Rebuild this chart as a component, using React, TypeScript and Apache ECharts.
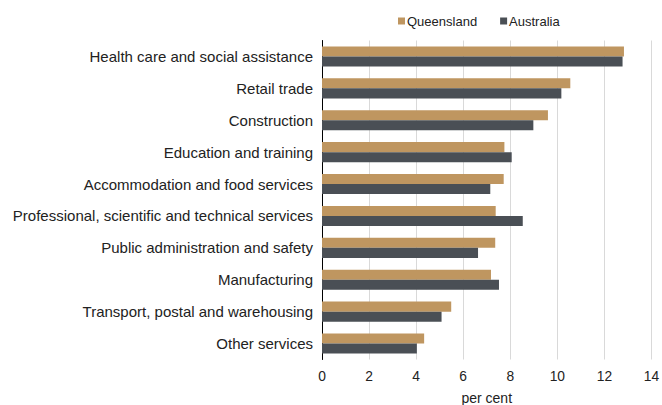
import React, { useEffect, useRef } from "react";
import * as echarts from "echarts";

const categories = [
  "Health care and social assistance",
  "Retail trade",
  "Construction",
  "Education and training",
  "Accommodation and food services",
  "Professional, scientific and technical services",
  "Public administration and safety",
  "Manufacturing",
  "Transport, postal and warehousing",
  "Other services",
];
const queensland = [12.83, 10.55, 9.6, 7.75, 7.72, 7.38, 7.36, 7.18, 5.49, 4.34];
const australia = [12.77, 10.17, 8.98, 8.06, 7.15, 8.53, 6.63, 7.52, 5.08, 4.03];

const FONT = "'Liberation Sans', Arial, sans-serif";

export default function App() {
  const ref = useRef<HTMLDivElement>(null);
  useEffect(() => {
    if (!ref.current) return;
    const chart = echarts.init(ref.current, undefined, { renderer: "svg" });
    chart.setOption({
      animation: false,
      textStyle: { fontFamily: FONT },
      legend: {
        top: 14.5,
        left: 398,
        padding: 0,
        itemWidth: 7,
        itemHeight: 7,
        itemGap: 23,
        icon: "rect",
        textStyle: { fontFamily: FONT, fontSize: 13, color: "#222", padding: [0, 0, 0, -3] },
        data: ["Queensland", "Australia"],
      },
      grid: { left: 322, right: 10.5, top: 40.5, bottom: 45.5, outerBoundsMode: "none" },
      xAxis: {
        type: "value",
        min: 0,
        max: 14,
        interval: 2,
        name: "per cent",
        nameLocation: "middle",
        nameGap: 31,
        nameTextStyle: { fontFamily: FONT, fontSize: 14, color: "#222" },
        axisLine: { show: false },
        axisTick: { show: false },
        axisLabel: { fontFamily: FONT, fontSize: 13.8, color: "#222", margin: 10 },
        splitLine: { show: true, lineStyle: { color: "#d9d9d9", width: 1 } },
      },
      yAxis: {
        type: "category",
        inverse: true,
        data: categories,
        axisLine: { show: true, lineStyle: { color: "#000", width: 1 } },
        axisTick: { show: false },
        axisLabel: { fontFamily: FONT, fontSize: 15, color: "#222", margin: 9 },
      },
      series: [
        {
          name: "Queensland",
          type: "bar",
          data: queensland,
          barGap: "0%",
          barCategoryGap: "37%",
          itemStyle: { color: "#BF9660" },
        },
        {
          name: "Australia",
          type: "bar",
          data: australia,
          barGap: "0%",
          barCategoryGap: "37%",
          itemStyle: { color: "#4A4F55" },
        },
      ],
    });
    return () => chart.dispose();
  }, []);
  return <div ref={ref} style={{ width: 662, height: 405, position: "absolute", left: 0, top: 0 }} />;
}
